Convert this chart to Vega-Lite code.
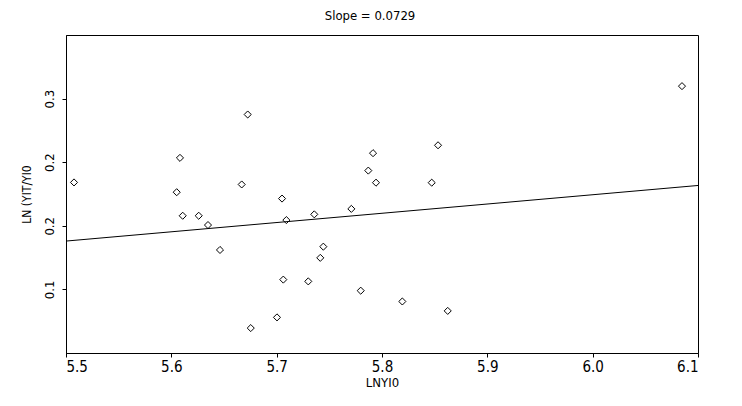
{
  "$schema": "https://vega.github.io/schema/vega-lite/v6.json",
  "autosize": {"type": "none"},
  "width": 632,
  "height": 318,
  "padding": {"left": 66, "top": 35, "right": 44, "bottom": 53},
  "background": "white",
  "title": {"text": "Slope = 0.0729", "anchor": "middle", "frame": "group", "offset": 12, "fontSize": 13, "fontWeight": "normal", "font": "DejaVu Sans Condensed, DejaVu Sans", "color": "black", "dx": -12},
  "config": {
    "view": {"stroke": "black", "strokeWidth": 1},
    "axis": {"domainColor": "black", "tickColor": "black", "labelColor": "black", "titleColor": "black", "grid": false, "labelFont": "DejaVu Sans Condensed, DejaVu Sans", "titleFont": "DejaVu Sans Condensed, DejaVu Sans", "titleFontWeight": "normal", "tickSize": 4}
  },
  "datasets": {
    "pts": [
      {"x": 5.5076, "y": 0.1841},
      {"x": 5.6051, "y": 0.1764},
      {"x": 5.6082, "y": 0.2034},
      {"x": 5.6108, "y": 0.1579},
      {"x": 5.6260, "y": 0.1579},
      {"x": 5.6348, "y": 0.1506},
      {"x": 5.6462, "y": 0.1310},
      {"x": 5.6668, "y": 0.1825},
      {"x": 5.6725, "y": 0.2375},
      {"x": 5.6754, "y": 0.0696},
      {"x": 5.7003, "y": 0.0780},
      {"x": 5.7051, "y": 0.1714},
      {"x": 5.7063, "y": 0.1077},
      {"x": 5.7092, "y": 0.1545},
      {"x": 5.7300, "y": 0.1063},
      {"x": 5.7357, "y": 0.1590},
      {"x": 5.7414, "y": 0.1248},
      {"x": 5.7443, "y": 0.1336},
      {"x": 5.7709, "y": 0.1633},
      {"x": 5.7798, "y": 0.0990},
      {"x": 5.7870, "y": 0.1934},
      {"x": 5.7915, "y": 0.2071},
      {"x": 5.7943, "y": 0.1839},
      {"x": 5.8193, "y": 0.0905},
      {"x": 5.8472, "y": 0.1839},
      {"x": 5.8532, "y": 0.2133},
      {"x": 5.8624, "y": 0.0831},
      {"x": 6.0848, "y": 0.2598}
    ],
    "fit": [
      {"x": 5.5, "y": 0.1380},
      {"x": 6.1, "y": 0.1817}
    ]
  },
  "layer": [
    {
      "data": {"name": "fit"},
      "mark": {"type": "line", "color": "black", "strokeWidth": 1},
      "encoding": {
        "x": {"field": "x", "type": "quantitative"},
        "y": {"field": "y", "type": "quantitative"}
      }
    },
    {
      "data": {"name": "pts"},
      "mark": {"type": "point", "shape": "diamond", "filled": false, "color": "black", "size": 50, "strokeWidth": 1, "opacity": 1},
      "encoding": {
        "x": {
          "field": "x", "type": "quantitative",
          "scale": {"domain": [5.5, 6.1], "nice": false, "zero": false},
          "axis": {"title": "LNYI0", "values": [5.5, 5.6, 5.7, 5.8, 5.9, 6.0, 6.1], "format": ".1f", "labelFontSize": 15, "labelPadding": 2, "titleFontSize": 13, "titlePadding": 2}
        },
        "y": {
          "field": "y", "type": "quantitative",
          "scale": {"domain": [0.05, 0.30], "nice": false, "zero": false},
          "axis": {"title": "LN (YIT/YI0", "values": [0.1, 0.15, 0.2, 0.25], "labelExpr": "datum.value < 0.12 ? '0.1' : datum.value < 0.22 ? '0.2' : '0.3'", "labelAngle": 270, "labelFontSize": 13, "labelPadding": 6, "titleFontSize": 12, "titlePadding": 10}
        }
      }
    }
  ]
}
